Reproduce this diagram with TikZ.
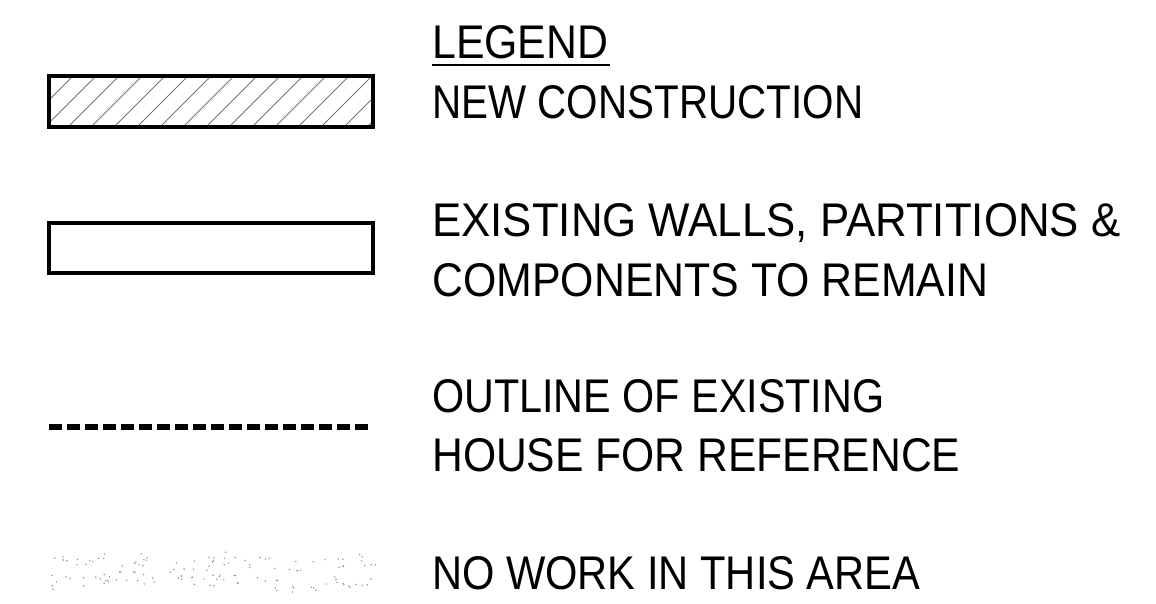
\documentclass[tikz,border=0pt]{standalone}
\usepackage{fontspec}
\setmainfont{Liberation Sans}
\usepackage{graphicx}
\usepackage{tikz}
\usetikzlibrary{patterns}

\newcommand{\legtxt}[2]{\resizebox{#1pt}{24.75pt}{#2}}

\begin{document}
\begin{tikzpicture}[x=0.75pt, y=-0.75pt]
        \tikzset{label/.style = {anchor=base west, inner sep=0pt, text=black}}
        \tikzset{wall/.style = {draw=black, line width=2.5pt}}
        \tikzset{hatch/.style = {draw=black!55, line width=0.6pt}}
        \tikzset{outline/.style = {draw=black, line width=4.8pt, dash pattern=on 9.75pt off 3.75pt}}
        \tikzset{speck/.style = {fill=black!45}}

        \useasboundingbox (0,0) rectangle (1156,603);

        \node[label] (legend) at (432,58) {\legtxt{132}{LEGEND}};
        \draw[line width=1.5pt] (legend.base west) ++(0,7) -- (610,65);

        \node[label] (newc) at (432,118) {\legtxt{323.25}{NEW CONSTRUCTION}};
        \node[label] (exist1) at (432,236) {\legtxt{516}{EXISTING WALLS, PARTITIONS \&}};
        \node[label] (exist2) at (432,296) {\legtxt{417}{COMPONENTS TO REMAIN}};
        \node[label] (outl1) at (432,412) {\legtxt{339}{OUTLINE OF EXISTING}};
        \node[label] (outl2) at (432,471) {\legtxt{396}{HOUSE FOR REFERENCE}};
        \node[label] (nowork) at (432,589) {\legtxt{366}{NO WORK IN THIS AREA}};

        \begin{scope}
            \clip (49,76) rectangle (373,127);
            \foreach \k in {-3,...,15}
                \draw[hatch] (45+23*\k,127) -- ++(51,-51);
        \end{scope}
        \draw[wall] (49,76) rectangle (373,127);

        \draw[wall] (49,223) rectangle (373,273);

        \draw[outline] (49,427) -- (373,427);

        \pgfmathsetseed{4711}
        \foreach \c in {0,...,10}
            \foreach \r in {0,1}{
                \pgfmathsetmacro{\cx}{60+30*\c+8*rand}
                \pgfmathsetmacro{\cy}{563+20*\r+5*rand}
                \foreach \j in {1,...,6}{
                    \pgfmathsetmacro{\px}{\cx+13*rand}
                    \pgfmathsetmacro{\py}{\cy+7*rand}
                    \fill[speck] (\px,\py) circle (0.8);
                }
            }
    \end{tikzpicture}
\end{document}
